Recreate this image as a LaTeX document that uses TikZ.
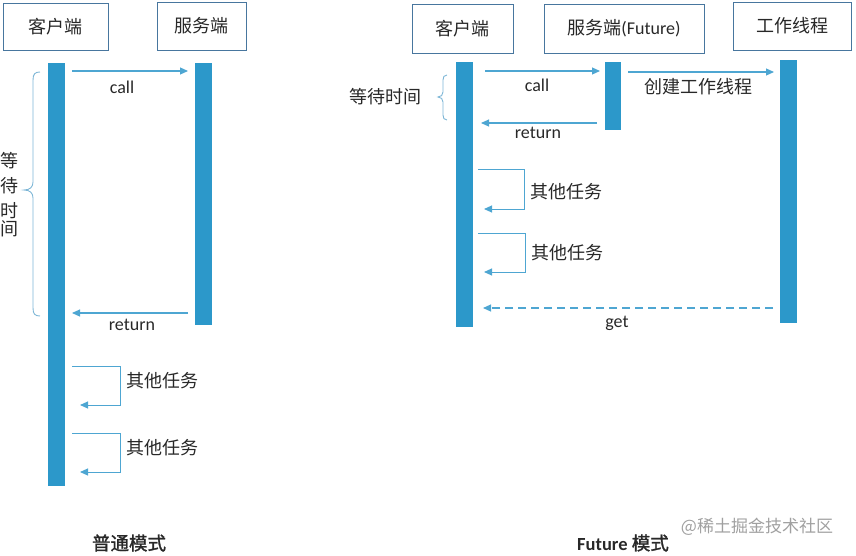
\documentclass[tikz,border=0pt]{standalone}
\usepackage{fontspec}
\setmainfont{Carlito}
\newfontfamily\cjk{Noto Sans CJK SC}
\newfontfamily\cjkb[FakeBold=1.5]{Noto Sans CJK SC}
\usetikzlibrary{arrows.meta}
\definecolor{barblue}{RGB}{44,152,202}
\definecolor{linblue}{RGB}{78,166,210}
\definecolor{boxedge}{RGB}{72,118,158}
\definecolor{bracecol}{RGB}{125,182,214}
\definecolor{txt}{RGB}{40,40,40}
\definecolor{wm}{RGB}{160,160,160}
\begin{document}
\begin{tikzpicture}[x=1pt,y=-1pt,
  hdr/.style={draw=boxedge, line width=0.8pt, fill=white, inner sep=0pt, outer sep=0pt,
    font=\cjk\fontsize{18}{18}\selectfont, text=txt},
  bar/.style={fill=barblue, draw=none, inner sep=0pt, outer sep=0pt, anchor=north west},
  msg/.style={draw=linblue, line width=1.1pt, -{Triangle[length=8pt,width=7pt]}},
  loopmsg/.style={draw=linblue, line width=1pt, -{Triangle[length=8pt,width=7pt]}},
  getmsg/.style={msg, dash pattern=on 8pt off 5pt},
  brc/.style={draw=bracecol, line width=0.9pt},
  lbl/.style={font=\fontsize{18}{18}\selectfont, text=txt, inner sep=0pt},
  clbl/.style={font=\cjk\fontsize{18}{18}\selectfont, text=txt, inner sep=0pt},
  captext/.style={font=\cjkb\fontsize{18.5}{18.5}\selectfont, text=txt, inner sep=0pt}
]
\useasboundingbox (0,0) rectangle (856,555);

% ---------- left: normal mode ----------
\node[hdr, minimum width=105, minimum height=47] (c1) at (55.5,26.5) {客户端};
\node[hdr, minimum width=89, minimum height=48] (s1) at (201.5,26) {服务端};
\node[bar, minimum width=17, minimum height=423] (cb1) at (48,63) {};
\node[bar, minimum width=17, minimum height=262] (sb1) at (195,63) {};

\coordinate (a1s) at (72,71);  \coordinate (a1e) at (188,71);
\draw[msg] (a1s) -- (a1e);
\node[lbl] (call1) at (122,87) {call};

\coordinate (r1s) at (188,313);  \coordinate (r1e) at (72,313);
\draw[msg] (r1s) -- (r1e);
\node[lbl] (ret1) at (132,325) {return};

\draw[brc] (40,72) .. controls (35,72) and (33,74) .. (33,80) -- (33,182)
  .. controls (33,187) and (30,190) .. (24,190)
  .. controls (30,190) and (33,193) .. (33,198) -- (33,308)
  .. controls (33,314) and (35,316) .. (40,316);
\node[clbl, align=center, text width=18pt] (wait1) at (10,195)
  {\baselineskip=25pt 等\par 待\par 时\par 间};

\coordinate (o1s) at (72,366); \coordinate (o1e) at (80,405);
\draw[loopmsg] (o1s) -- (120,366) -- (120,405) -- (o1e);
\node[clbl] (t1) at (162,381) {其他任务};
\coordinate (o2s) at (72,433); \coordinate (o2e) at (80,472);
\draw[loopmsg] (o2s) -- (120,433) -- (120,472) -- (o2e);
\node[clbl] (t2) at (162,448) {其他任务};

\node[captext] (cap1) at (129,543) {普通模式};

% ---------- right: Future mode ----------
\node[hdr, minimum width=101, minimum height=49] (c2) at (462.5,28.5) {客户端};
\node[hdr, minimum width=160, minimum height=49] (s2) at (624,28.5) {服务端{\fontspec{Carlito}(Future)}};
\node[hdr, minimum width=118, minimum height=48] (w2) at (792,26) {工作线程};
\node[bar, minimum width=17, minimum height=265] (cb2) at (456,62) {};
\node[bar, minimum width=16, minimum height=68] (sb2) at (605,62) {};
\node[bar, minimum width=17, minimum height=263] (wb2) at (780,60) {};

\coordinate (a2s) at (485,71); \coordinate (a2e) at (600,71);
\draw[msg] (a2s) -- (a2e);
\node[lbl] (call2) at (537,85) {call};

\coordinate (k2s) at (628,72); \coordinate (k2e) at (774,72);
\draw[msg] (k2s) -- (k2e);
\node[clbl] (mk2) at (698,87) {创建工作线程};

\coordinate (r2s) at (597,123); \coordinate (r2e) at (481,123);
\draw[msg] (r2s) -- (r2e);
\node[lbl] (ret2) at (538,133) {return};

\draw[brc] (447,75) .. controls (444,75) and (443,77) .. (443,80) -- (443,92)
  .. controls (443,95) and (441,97) .. (438,97)
  .. controls (441,97) and (443,99) .. (443,102) -- (443,115)
  .. controls (443,118) and (444,120) .. (447,120);
\node[clbl] (wait2) at (385,97) {等待时间};

\coordinate (o3s) at (478,169); \coordinate (o3e) at (484,209);
\draw[loopmsg] (o3s) -- (524,169) -- (524,209) -- (o3e);
\node[clbl] (t3) at (566,192) {其他任务};
\coordinate (o4s) at (478,233); \coordinate (o4e) at (484,272);
\draw[loopmsg] (o4s) -- (525,233) -- (525,272) -- (o4e);
\node[clbl] (t4) at (567,253) {其他任务};

\coordinate (g2s) at (773,308); \coordinate (g2e) at (483,308);
\draw[getmsg] (g2s) -- (g2e);
\node[lbl] (get2) at (617,323) {get};

\node[captext] (cap2) at (623,543) {{\fontspec{Carlito}\bfseries Future} 模式};

\node[font=\cjk\fontsize{17}{17}\selectfont, text=wm, inner sep=0pt] (wmark) at (757,527) {@稀土掘金技术社区};
\end{tikzpicture}
\end{document}
